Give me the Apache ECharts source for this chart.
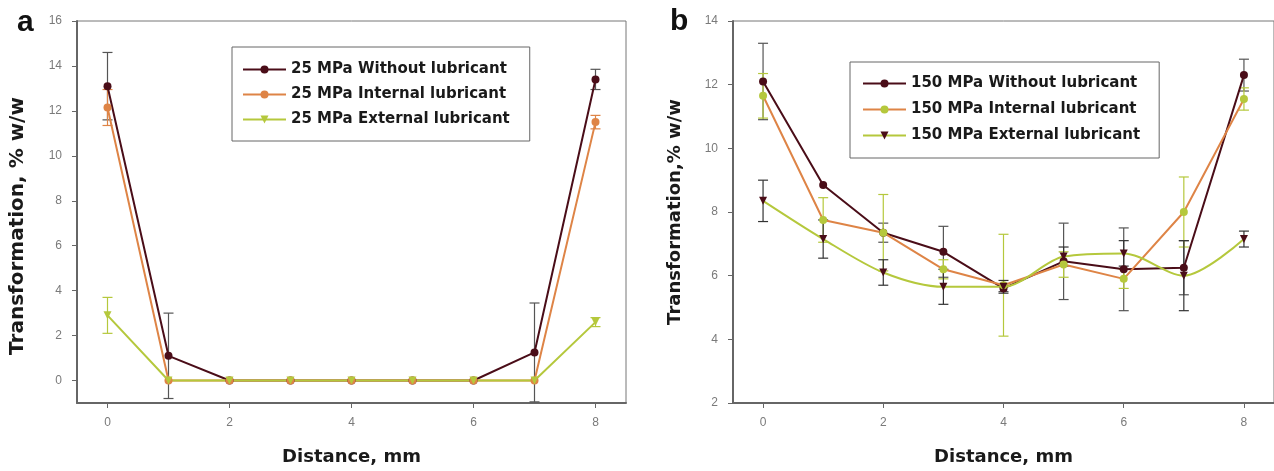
<!DOCTYPE html>
<html lang="en">
<head>
    <meta charset="utf-8">
    <title>Transformation vs distance</title>
    <script src="https://cdn.jsdelivr.net/npm/echarts@6/dist/echarts.min.js"></script>
    <style>
        html, body {margin: 0; padding: 0; background: #fff;}
        #main {width: 1274px; height: 471px;}
    </style>
</head>
<body>
<div id="main"></div>

<script type="text/javascript">
    // distance, mm
    var distance = [0, 1, 2, 3, 4, 5, 6, 7, 8];
    var xTicks = [0, 2, 4, 6, 8];
    var yTicksA = [0, 2, 4, 6, 8, 10, 12, 14, 16];

    // panel a: 25 MPa
    var namesA = ['25 MPa Without lubricant', '25 MPa Internal lubricant', '25 MPa External lubricant'];
    var a_without = [13.1, 1.1, 0, 0, 0, 0, 0, 1.25, 13.4];
    var a_without_err = [1.5, 1.9, 0, 0, 0, 0, 0, 2.2, 0.45];
    var a_internal = [12.15, 0, 0, 0, 0, 0, 0, 0, 11.5];
    var a_internal_err = [0.8, 0, 0, 0, 0, 0, 0, 0, 0.3];
    var a_external = [2.9, 0, 0, 0, 0, 0, 0, 0, 2.6];
    var a_external_err = [0.8, 0, 0, 0, 0, 0, 0, 0, 0.2];

    // panel b: 150 MPa
    var namesB = ['150 MPa Without lubricant', '150 MPa Internal lubricant', '150 MPa External lubricant'];
    var b_without = [12.1, 8.85, 7.35, 6.75, 5.6, 6.45, 6.2, 6.25, 12.3];
    var b_without_err = [1.2, 0, 0.3, 0.8, 0.1, 1.2, 1.3, 0.85, 0.5];
    var b_internal = [11.65, 7.75, 7.35, 6.2, 5.7, 6.35, 5.9, 8.0, 11.55];
    var b_internal_err = [0.7, 0.7, 1.2, 0.3, 1.6, 0.4, 0.3, 1.1, 0.35];
    var b_external = [8.35, 7.15, 6.1, 5.65, 5.65, 6.6, 6.7, 6.0, 7.15];
    var b_external_err = [0.65, 0.6, 0.4, 0.55, 0.2, 0.3, 0.4, 1.1, 0.25];

    var cMaroon = '#4a0d18';
    var cOrange = '#de8446';
    var cGreen = '#b5c83c';

    function pairs(ys) {
        return distance.map(function (x, i) { return [x, ys[i]]; });
    }
    function triples(ys, es) {
        return distance.map(function (x, i) { return [x, ys[i], es[i]]; });
    }

    // error bars drawn with a custom series
    function errSeries(name, idx, ys, es, color) {
        return {
            name: name,
            type: 'custom',
            xAxisIndex: idx,
            yAxisIndex: idx,
            z: 1,
            silent: true,
            data: triples(ys, es),
            encode: {x: 0, y: 1},
            renderItem: function (params, api) {
                var x = api.value(0), y = api.value(1), e = api.value(2);
                if (!e) return;
                var hi = api.coord([x, y + e]);
                var lo = api.coord([x, y - e]);
                var st = {stroke: color, lineWidth: 1.2};
                return {
                    type: 'group',
                    children: [
                        {type: 'line', shape: {x1: hi[0], y1: hi[1], x2: lo[0], y2: lo[1]}, style: st},
                        {type: 'line', shape: {x1: hi[0] - 5, y1: hi[1], x2: hi[0] + 5, y2: hi[1]}, style: st},
                        {type: 'line', shape: {x1: lo[0] - 5, y1: lo[1], x2: lo[0] + 5, y2: lo[1]}, style: st}
                    ]
                };
            }
        };
    }

    function lineSeries(name, idx, ys, lineColor, markColor, symbol, smooth) {
        return {
            name: name,
            type: 'line',
            xAxisIndex: idx,
            yAxisIndex: idx,
            z: 3,
            data: pairs(ys),
            smooth: smooth || false,
            symbol: symbol,
            symbolRotate: symbol === 'triangle' ? 180 : 0,
            symbolSize: 8,
            lineStyle: {color: lineColor, width: 2},
            itemStyle: {color: markColor}
        };
    }

    var labelStyle = {fontFamily: 'Liberation Sans', fontSize: 12, color: '#7a7a7a'};
    var nameStyle = {fontFamily: 'DejaVu Sans', fontWeight: 'bold', fontSize: 18, color: '#1a1a1a'};
    var nameStyleA = {fontFamily: 'DejaVu Sans', fontWeight: 'bold', fontSize: 20, color: '#1a1a1a', padding: [0, 28, 0, 0]};
    var legendText = {fontFamily: 'DejaVu Sans', fontWeight: 'bold', fontSize: 15, lineHeight: 13, color: '#1a1a1a'};
    var letterStyle = {fontFamily: 'Liberation Sans', fontWeight: 'bold', fontSize: 30, color: '#111'};

    function xAxisCfg(idx) {
        return {
            type: 'value',
            gridIndex: idx,
            min: -0.5,
            max: 8.5,
            name: 'Distance, mm',
            nameLocation: 'middle',
            nameGap: 45,
            nameTextStyle: nameStyle,
            splitLine: {show: false},
            axisLine: {onZero: false, lineStyle: {color: '#666', width: 2}},
            axisTick: {customValues: xTicks, length: 5, lineStyle: {color: '#666'}},
            axisLabel: Object.assign({customValues: xTicks, margin: 14}, labelStyle)
        };
    }

    var myChart = echarts.init(document.getElementById('main'));

    var option = {
        animation: false,
        backgroundColor: '#fff',
        title: [
            {text: 'a', left: 12, top: 3, textStyle: letterStyle},
            {text: 'b', left: 665, top: 2, textStyle: letterStyle}
        ],
        grid: [
            {left: 77, top: 21, width: 549, height: 382, show: true, borderColor: '#777', borderWidth: 1},
            {left: 733, top: 21, width: 549, height: 383, show: true, borderColor: '#777', borderWidth: 1}
        ],
        legend: [
            {
                data: namesA, orient: 'vertical', left: 232, top: 47,
                itemWidth: 43, itemHeight: 10, itemGap: 10,
                padding: [15, 20, 14, 10],
                borderColor: '#666', borderWidth: 1,
                textStyle: legendText
            },
            {
                data: namesB, orient: 'vertical', left: 850, top: 62,
                itemWidth: 43, itemHeight: 10, itemGap: 11,
                padding: [14, 19, 15, 12],
                borderColor: '#666', borderWidth: 1,
                textStyle: legendText
            }
        ],
        xAxis: [xAxisCfg(0), xAxisCfg(1)],
        yAxis: [
            {
                type: 'value', gridIndex: 0, min: -1, max: 16,
                name: 'Transformation, % w/w', nameLocation: 'middle', nameGap: 49, nameTextStyle: nameStyleA,
                splitLine: {show: false},
                axisLine: {onZero: false, lineStyle: {color: '#666', width: 2}},
                axisTick: {customValues: yTicksA, length: 5, lineStyle: {color: '#666'}},
                axisLabel: Object.assign({customValues: yTicksA, margin: 15}, labelStyle)
            },
            {
                type: 'value', gridIndex: 1, min: 2, max: 14, interval: 2,
                name: 'Transformation,% w/w', nameLocation: 'middle', nameGap: 49, nameTextStyle: nameStyle,
                splitLine: {show: false},
                axisLine: {onZero: false, lineStyle: {color: '#666', width: 2}},
                axisTick: {length: 5, lineStyle: {color: '#666'}},
                axisLabel: Object.assign({margin: 15}, labelStyle)
            }
        ],
        series: [
            errSeries('ea0', 0, a_without, a_without_err, '#555'),
            errSeries('ea1', 0, a_internal, a_internal_err, cOrange),
            errSeries('ea2', 0, a_external, a_external_err, cGreen),
            lineSeries(namesA[0], 0, a_without, cMaroon, cMaroon, 'circle'),
            lineSeries(namesA[1], 0, a_internal, cOrange, cOrange, 'circle'),
            lineSeries(namesA[2], 0, a_external, cGreen, cGreen, 'triangle'),

            errSeries('eb0', 1, b_without, b_without_err, '#555'),
            errSeries('eb1', 1, b_internal, b_internal_err, cGreen),
            errSeries('eb2', 1, b_external, b_external_err, '#333'),
            lineSeries(namesB[0], 1, b_without, cMaroon, cMaroon, 'circle'),
            lineSeries(namesB[1], 1, b_internal, cOrange, cGreen, 'circle'),
            lineSeries(namesB[2], 1, b_external, cGreen, cMaroon, 'triangle', 0.3)
        ]
    };
    myChart.setOption(option);
</script>
</body>
</html>
